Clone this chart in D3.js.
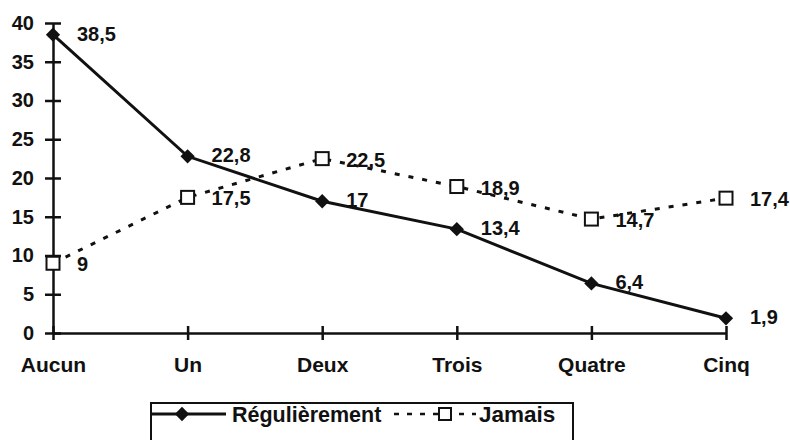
<!DOCTYPE html>
<html>
<head>
<meta charset="utf-8">
<script src="https://cdn.jsdelivr.net/npm/d3@7"></script>
<style>
  body { margin: 0; background: #fff; }
  text { font-family: "Liberation Sans", Arial, sans-serif; font-weight: bold; fill: #111; }
</style>
</head>
<body>
<div id="chart"></div>
<script>
// data
var categories = ["Aucun", "Un", "Deux", "Trois", "Quatre", "Cinq"];
var regulierement = [38.5, 22.8, 17, 13.4, 6.4, 1.9];
var jamais = [9, 17.5, 22.5, 18.9, 14.7, 17.4];
var yTicks = [0, 5, 10, 15, 20, 25, 30, 35, 40];

var width = 790, height = 440;

var svg = d3.select("#chart")
  .append("svg")
    .attr("width", width)
    .attr("height", height);

var x = d3.scalePoint()
  .domain(categories)
  .range([53, 726])
  .padding(0);

var y = d3.scaleLinear()
  .domain([0, 40])
  .range([333, 23]);

var fmt = function (v) { return String(v).replace(".", ","); };

// Y axis
var yAxis = svg.append("g")
  .attr("transform", "translate(53,0)")
  .call(d3.axisLeft(y).tickValues(yTicks).tickSize(0).tickPadding(19));
yAxis.select(".domain").attr("stroke", "#111").attr("stroke-width", 2.5);
yAxis.selectAll("text").style("font-size", "20px");
yAxis.selectAll(".tick").append("line")
  .attr("x1", -8).attr("x2", 8)
  .attr("stroke", "#111").attr("stroke-width", 2.5);

// X axis
var xAxis = svg.append("g")
  .attr("transform", "translate(0,333)")
  .call(d3.axisBottom(x).tickSize(0).tickPadding(24));
xAxis.select(".domain").attr("stroke", "#111").attr("stroke-width", 2.5);
xAxis.selectAll("text").style("font-size", "21px");
xAxis.selectAll(".tick").append("line")
  .attr("y1", -7).attr("y2", 7)
  .attr("stroke", "#111").attr("stroke-width", 2.5);

var line = d3.line()
  .x(function (d, i) { return x(categories[i]); })
  .y(function (d) { return y(d); });

// Jamais - dashed line, open squares
svg.append("path")
  .datum(jamais)
  .attr("d", line)
  .attr("fill", "none")
  .attr("stroke", "#111")
  .attr("stroke-width", 3)
  .attr("stroke-dasharray", "5,9");

// Regulierement - solid line, diamonds
svg.append("path")
  .datum(regulierement)
  .attr("d", line)
  .attr("fill", "none")
  .attr("stroke", "#111")
  .attr("stroke-width", 3);

svg.append("g")
  .selectAll("rect")
  .data(jamais)
  .enter()
  .append("rect")
    .attr("x", function (d, i) { return x(categories[i]) - 6.5; })
    .attr("y", function (d) { return y(d) - 6.5; })
    .attr("width", 13)
    .attr("height", 13)
    .attr("fill", "#fff")
    .attr("stroke", "#111")
    .attr("stroke-width", 2);

var diamond = d3.symbol().type(d3.symbolDiamond2).size(130);
svg.append("g")
  .selectAll("path")
  .data(regulierement)
  .enter()
  .append("path")
    .attr("d", diamond)
    .attr("transform", function (d, i) { return "translate(" + x(categories[i]) + "," + y(d) + ")"; })
    .attr("fill", "#111");

// value labels
svg.append("g")
  .selectAll("text")
  .data(regulierement)
  .enter()
  .append("text")
    .attr("x", function (d, i) { return x(categories[i]) + 24; })
    .attr("y", function (d) { return y(d) - 1; })
    .attr("dy", "0.35em")
    .style("font-size", "20px")
    .text(fmt);

svg.append("g")
  .selectAll("text")
  .data(jamais)
  .enter()
  .append("text")
    .attr("x", function (d, i) { return x(categories[i]) + 24; })
    .attr("y", function (d) { return y(d) + 1; })
    .attr("dy", "0.35em")
    .style("font-size", "20px")
    .text(fmt);

// legend
var legend = svg.append("g");
legend.append("rect")
  .attr("x", 151).attr("y", 403)
  .attr("width", 422).attr("height", 60)
  .attr("fill", "#fff")
  .attr("stroke", "#111")
  .attr("stroke-width", 2);
legend.append("line")
  .attr("x1", 151).attr("x2", 226).attr("y1", 414).attr("y2", 414)
  .attr("stroke", "#111").attr("stroke-width", 3);
legend.append("path")
  .attr("d", diamond)
  .attr("transform", "translate(182,414)")
  .attr("fill", "#111");
legend.append("text")
  .attr("x", 232).attr("y", 414).attr("dy", "0.35em")
  .style("font-size", "21.5px")
  .text("Régulièrement");
legend.append("line")
  .attr("x1", 394).attr("x2", 476).attr("y1", 414).attr("y2", 414)
  .attr("stroke", "#111").attr("stroke-width", 2.5)
  .attr("stroke-dasharray", "5,8");
legend.append("rect")
  .attr("x", 439).attr("y", 408)
  .attr("width", 12).attr("height", 12)
  .attr("fill", "#fff")
  .attr("stroke", "#111")
  .attr("stroke-width", 2);
legend.append("text")
  .attr("x", 479).attr("y", 414).attr("dy", "0.35em")
  .style("font-size", "22.5px")
  .text("Jamais");
</script>
</body>
</html>
